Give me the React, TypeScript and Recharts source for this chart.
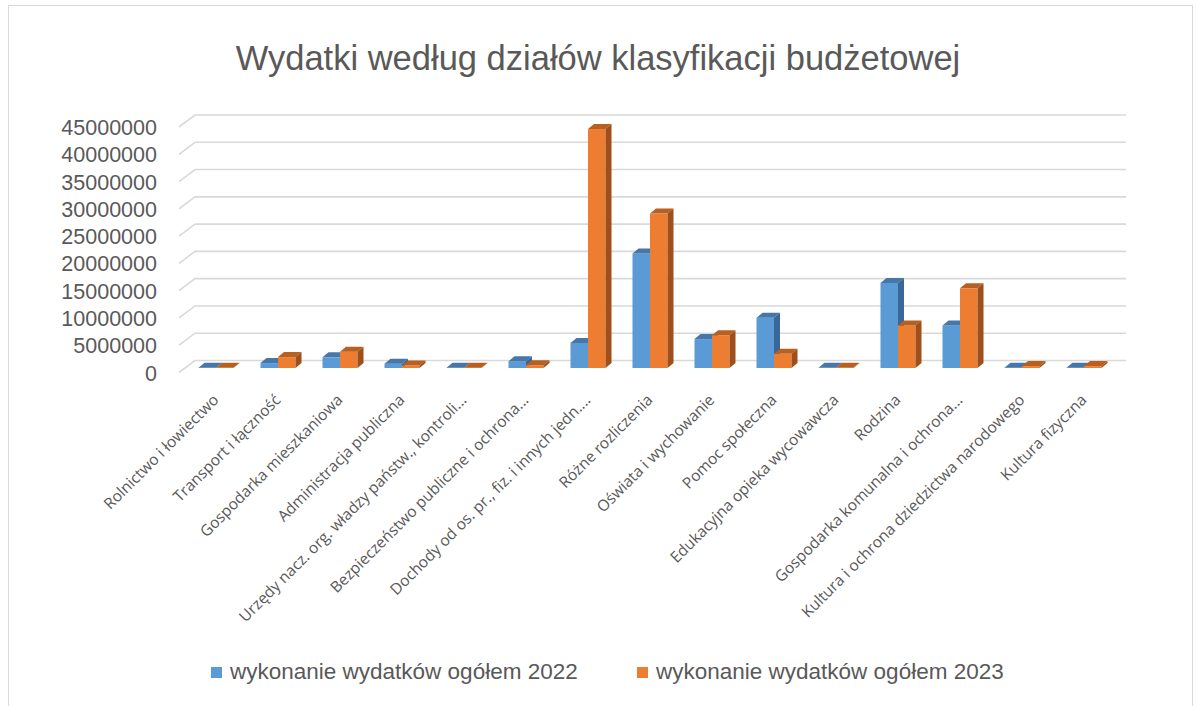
import React from 'react';
import { BarChart, Bar, XAxis, YAxis, CartesianGrid, Legend } from 'recharts';

const categories = [
  'Rolnictwo i łowiectwo',
  'Transport i łączność',
  'Gospodarka mieszkaniowa',
  'Administracja publiczna',
  'Urzędy nacz. org. władzy państw., kontroli...',
  'Bezpieczeństwo publiczne i ochrona...',
  'Dochody od os. pr., fiz. i innych jedn....',
  'Różne rozliczenia',
  'Oświata i wychowanie',
  'Pomoc społeczna',
  'Edukacyjna opieka wycowawcza',
  'Rodzina',
  'Gospodarka komunalna i ochrona...',
  'Kultura i ochrona dziedzictwa narodowego',
  'Kultura fizyczna',
];

const values2022 = [40000, 900000, 1950000, 800000, 50000, 1250000, 4600000, 21000000, 5300000, 9200000, 30000, 15600000, 7800000, 60000, 60000];
const values2023 = [30000, 2000000, 3000000, 450000, 60000, 500000, 43800000, 28300000, 6000000, 2600000, 30000, 7800000, 14600000, 350000, 350000];

const seriesNames = ['wykonanie wydatków ogółem 2022', 'wykonanie wydatków ogółem 2023'];
const yTicks = [0, 5000000, 10000000, 15000000, 20000000, 25000000, 30000000, 35000000, 40000000, 45000000];

const data = categories.map((name, i) => ({ name, v2022: values2022[i], v2023: values2023[i] }));

const TEXT = '#595959';
const SANS = '"Liberation Sans", Arial, sans-serif';
const DX = 6;
const DY = 5;

const makeBox = (front: string, top: string, side: string) => (props: any) => {
  const { x, y, width, height } = props;
  if (x == null || y == null) return null;
  const w = width;
  const h = Math.max(height, 0);
  return (
    <g>
      <rect x={x} y={y} width={w} height={h} fill={front} />
      <polygon points={`${x},${y} ${x + DX},${y - DY} ${x + w + DX},${y - DY} ${x + w},${y}`} fill={top} />
      <polygon points={`${x + w},${y} ${x + w + DX},${y - DY} ${x + w + DX},${y + h - DY} ${x + w},${y + h}`} fill={side} />
    </g>
  );
};

const BlueBox = makeBox('#5B9BD5', '#4677A8', '#3A6896');
const OrangeBox = makeBox('#ED7D31', '#B8601F', '#9E4F1B');

const YTick = (props: any) => {
  const { y, payload } = props;
  return (
    <text x={157} y={y + 5.5} textAnchor="end" dominantBaseline="central" fill={TEXT} fontSize={21.5} fontFamily={SANS}>
      {String(payload.value)}
    </text>
  );
};

const XTick = (props: any) => {
  const { x, payload } = props;
  const bx = x + 4;
  const by = 401;
  return (
    <text x={bx} y={by} textAnchor="end" transform={`rotate(-45, ${bx}, ${by})`} fill={TEXT} fontSize={15.5} fontFamily='"Open Sans", sans-serif'>
      {payload.value}
    </text>
  );
};

const GridLine = (p: any) => {
  const y = p.y1;
  return (
    <path
      key={`grid-${p.index}-${y}`}
      d={`M179 ${y + 4.5} L195 ${y - 7.5} L1126 ${y - 7.5}`}
      stroke="#d9d9d9"
      strokeWidth={1.6}
      fill="none"
    />
  );
};

const LegendContent = () => (
  <div style={{ position: 'relative', width: 1196, height: 30, fontFamily: SANS, fontSize: 22.5, color: TEXT }}>
    {seriesNames.map((n, i) => (
      <div
        key={n}
        style={{ position: 'absolute', left: i === 0 ? 211 : 637, top: 0, height: 30, lineHeight: '30px', display: 'flex', alignItems: 'center', whiteSpace: 'nowrap' }}
      >
        <span style={{ display: 'inline-block', width: 11, height: 11, background: i === 0 ? '#5B9BD5' : '#ED7D31', marginRight: 8 }} />
        <span>{n}</span>
      </div>
    ))}
  </div>
);

export default function App() {
  return (
    <div style={{ position: 'absolute', left: 0, top: 0, width: 1196, height: 706, overflow: 'hidden', background: '#fff' }}>
      <div style={{ position: 'absolute', left: 8, top: 5, width: 1185, height: 760, border: '1px solid #d9d9d9', boxSizing: 'border-box' }} />
      <div
        style={{ position: 'absolute', left: 0, top: 38, width: 1196, textAlign: 'center', fontFamily: SANS, fontSize: 34.5, lineHeight: '40px', color: TEXT, whiteSpace: 'nowrap' }}
      >
        Wydatki według działów klasyfikacji budżetowej
      </div>
      <div style={{ position: 'absolute', left: 0, top: 0 }}>
        <BarChart
          width={1196}
          height={706}
          data={data}
          margin={{ top: 122.5, right: 81.5, bottom: 8, left: 0 }}
          barGap={0}
          barSize={17.5}
        >
          <CartesianGrid vertical={false} horizontal={GridLine as any} />
          <XAxis dataKey="name" interval={0} axisLine={false} tickLine={false} height={300} tick={<XTick />} />
          <YAxis
            width={184.5}
            domain={[0, 45000000]}
            ticks={yTicks}
            interval={0}
            axisLine={false}
            tickLine={false}
            tick={<YTick />}
          />
          <Legend content={<LegendContent />} wrapperStyle={{ left: 0, top: 657, width: 1196, height: 30 }} />
          <Bar dataKey="v2022" name={seriesNames[0]} fill="#5B9BD5" shape={BlueBox} isAnimationActive={false} />
          <Bar dataKey="v2023" name={seriesNames[1]} fill="#ED7D31" shape={OrangeBox} isAnimationActive={false} />
        </BarChart>
      </div>
    </div>
  );
}
